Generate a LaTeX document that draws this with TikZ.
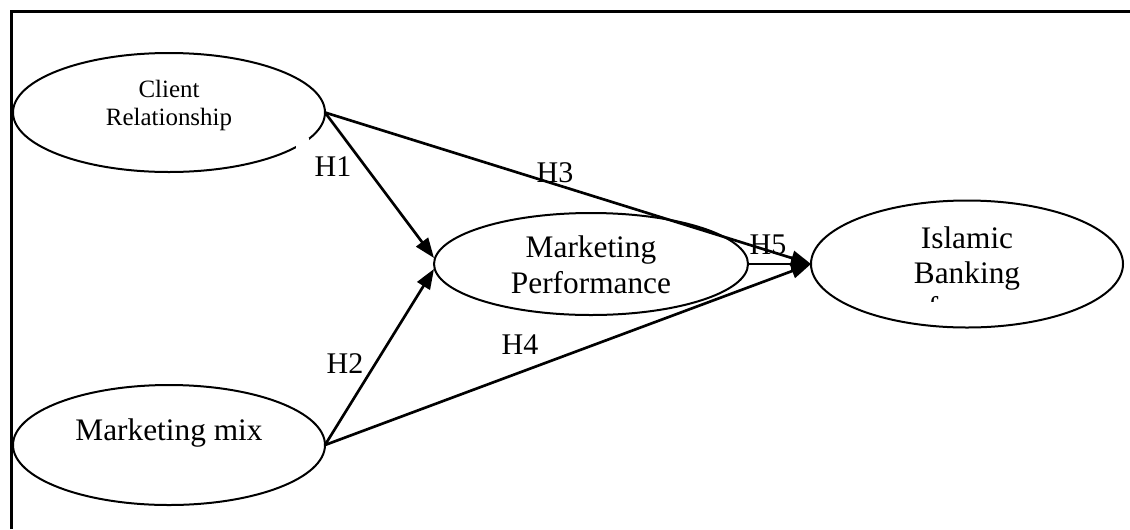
\documentclass[tikz,border=0pt]{standalone}
\usepackage{fontspec}
\setmainfont{Liberation Serif}
\usetikzlibrary{shapes.geometric,arrows.meta}
\begin{document}
\begin{tikzpicture}[x=0.75pt,y=-0.75pt,
  oval/.style={draw, ellipse, line width=1.5pt, inner sep=0pt, outer sep=0pt},
  lbl/.style={font=\fontsize{23.5pt}{27pt}\selectfont, align=center, anchor=base, inner sep=0pt},
  small/.style={font=\fontsize{18.7pt}{21pt}\selectfont, align=center, anchor=base, inner sep=0pt},
  hyp/.style={font=\fontsize{22.5pt}{26pt}\selectfont, inner sep=0pt},
  link/.style={line width=2pt, -{Triangle[length=15pt,width=11pt]}},
  frame/.style={line width=2.25pt}]
\useasboundingbox (0,0) rectangle (1130,529);
\draw[frame] (11.5,529) -- (11.5,11.5) -- (1130,11.5);

\node[oval, minimum width=234pt, minimum height=89.25pt] (cr) at (169,112.5) {};
\node[oval, minimum width=234pt, minimum height=90pt] (mm) at (169,445) {};
\node[oval, minimum width=235.5pt, minimum height=76.5pt] (mp) at (591,264) {};
\node[oval, minimum width=234pt, minimum height=95.25pt] (ib) at (967,264) {};

\fill[white] (296,138) rectangle (309,153);

\node[small] (crt) at (169,125) {Client\\Relationship};
\node[lbl] (mmt) at (169,440) {Marketing mix};
\node[lbl] (mpt) at (591,293) {Marketing\\Performance};
\begin{scope}
\clip (811,190) rectangle (1125,301);
\node[lbl, font=\fontsize{23.5pt}{26.25pt}\selectfont] (ibt) at (967,318) {Islamic\\Banking\\performance};
\end{scope}

\draw[link] (cr.east) -- ([yshift=4.5pt]mp.west);
\draw[link] (mm.east) -- ([yshift=-3.75pt]mp.west);
\draw[link] (cr.east) -- (ib.west);
\draw[link] (mm.east) -- (ib.west);
\draw[link] (mp.east) -- (ib.west);

\node[hyp] (h1) at (333,167) {H1};
\node[hyp] (h2) at (345,364) {H2};
\node[hyp] (h3) at (555,173) {H3};
\node[hyp] (h4) at (520,345) {H4};
\node[hyp] (h5) at (768,245) {H5};
\end{tikzpicture}
\end{document}
